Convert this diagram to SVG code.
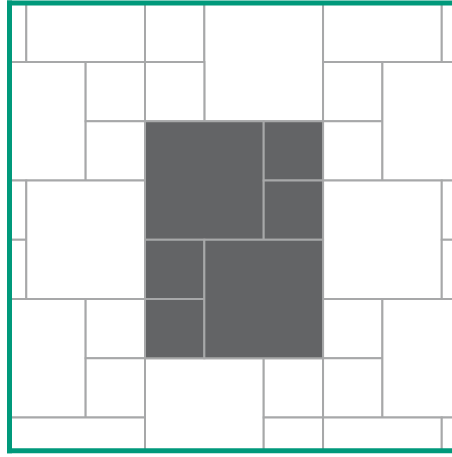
<svg xmlns="http://www.w3.org/2000/svg" width="452" height="457" viewBox="0 0 452 457">
<style>
.t{fill:#ffffff;stroke:#a7a8a9;stroke-width:2}
.d{fill:#636466;stroke:#a7a8a9;stroke-width:2}
.g{stroke:#00997b;stroke-width:5;fill:none;stroke-linecap:square}
</style>
<defs>
<clipPath id="area"><rect x="9.5" y="3" width="443" height="448"/></clipPath>
</defs>
<rect width="452" height="457" fill="#ffffff"/>
<g id="tiles" clip-path="url(#area)">
<rect class="t" x="-33" y="2.75" width="59.3" height="59.25"/>
<rect class="t" x="26.3" y="-56.5" width="118.7" height="118.5"/>
<rect class="t" x="145" y="2.75" width="59.35" height="59.25"/>
<rect class="t" x="204.35" y="2.75" width="118.7" height="118.5"/>
<rect class="t" x="323.05" y="-56.5" width="118.7" height="118.5"/>
<rect class="t" x="441.75" y="2.75" width="59.35" height="59.25"/>
<rect class="t" x="-33" y="62" width="118.65" height="118.5"/>
<rect class="t" x="85.65" y="62" width="59.35" height="59.25"/>
<rect class="t" x="85.65" y="121.25" width="59.35" height="59.25"/>
<rect class="t" x="145" y="62" width="59.35" height="59.25"/>
<rect class="t" x="323.05" y="62" width="59.35" height="59.25"/>
<rect class="t" x="323.05" y="121.25" width="59.35" height="59.25"/>
<rect class="t" x="382.4" y="62" width="118.7" height="118.5"/>
<rect class="t" x="-33" y="180.5" width="59.3" height="59.25"/>
<rect class="t" x="-33" y="239.75" width="59.3" height="59.25"/>
<rect class="t" x="26.3" y="180.5" width="118.7" height="118.5"/>
<rect class="t" x="323.05" y="180.5" width="118.7" height="118.5"/>
<rect class="t" x="441.75" y="180.5" width="59.35" height="59.25"/>
<rect class="t" x="441.75" y="239.75" width="59.35" height="59.25"/>
<rect class="t" x="-33" y="299" width="118.65" height="118.5"/>
<rect class="t" x="85.65" y="299" width="59.35" height="59.25"/>
<rect class="t" x="85.65" y="358.25" width="59.35" height="59.25"/>
<rect class="t" x="-33" y="417.5" width="178" height="59.25"/>
<rect class="t" x="145" y="358.25" width="118.7" height="118.5"/>
<rect class="t" x="263.7" y="358.25" width="59.35" height="59.25"/>
<rect class="t" x="263.7" y="417.5" width="59.35" height="59.25"/>
<rect class="t" x="323.05" y="299" width="59.35" height="59.25"/>
<rect class="t" x="323.05" y="358.25" width="59.35" height="59.25"/>
<rect class="t" x="382.4" y="299" width="118.7" height="118.5"/>
<rect class="t" x="323.05" y="417.5" width="118.7" height="118.5"/>
<rect class="t" x="441.75" y="417.5" width="59.35" height="59.25"/>
</g>
<g id="dark">
<rect class="d" x="145" y="121.25" width="118.7" height="118.5"/>
<rect class="d" x="263.7" y="121.25" width="59.35" height="59.25"/>
<rect class="d" x="263.7" y="180.5" width="59.35" height="59.25"/>
<rect class="d" x="145" y="239.75" width="59.35" height="59.25"/>
<rect class="d" x="145" y="299" width="59.35" height="59.25"/>
<rect class="d" x="204.35" y="239.75" width="118.7" height="118.5"/>
</g>
<g id="border">
<line class="g" x1="9.5" y1="3" x2="455" y2="3"/>
<line class="g" x1="9.5" y1="3" x2="9.5" y2="450.8"/>
<line class="g" x1="9.5" y1="450.8" x2="455" y2="450.8"/>
</g>
</svg>
